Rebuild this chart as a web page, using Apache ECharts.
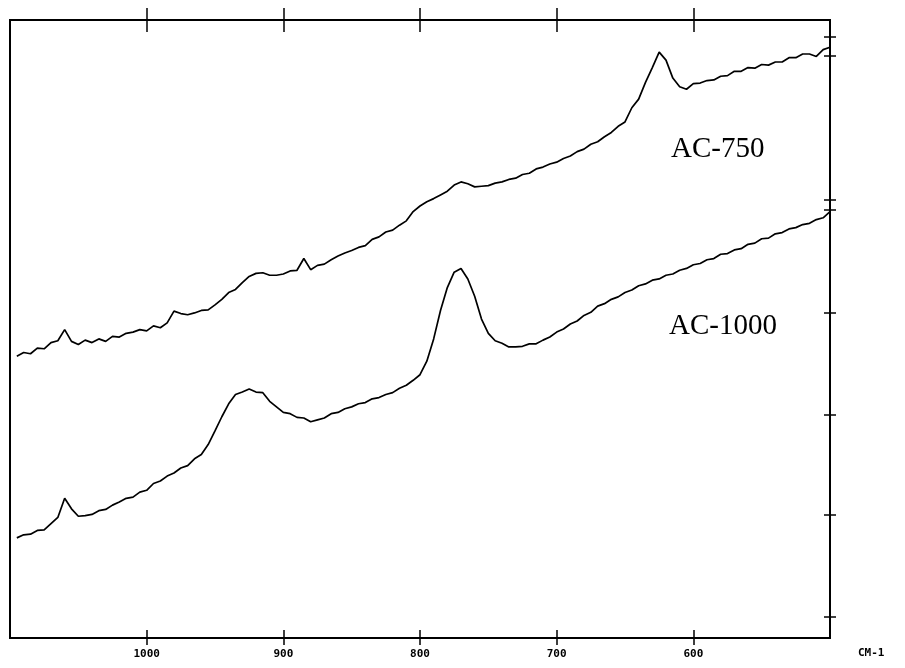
<!DOCTYPE html>
<html>
<head>
<meta charset="utf-8">
<title>IR spectra AC-750 / AC-1000</title>
<script src="https://cdn.jsdelivr.net/npm/echarts@6/dist/echarts.min.js"></script>
<style>
  html, body { margin: 0; padding: 0; background: #fff; }
  #chart { width: 905px; height: 668px; }
</style>
</head>
<body>
<div id="chart"></div>
<script>
// Wavenumber grid (cm-1), shared by both spectra
const wavenumbers = [
  1095,1090,1085,1080,1075,1070,1065,1060,1055,1050,1045,1040,1035,1030,1025,1020,1015,1010,1005,1000,
  995,990,985,980,975,970,965,960,955,950,945,940,935,930,925,920,915,910,905,900,
  895,890,885,880,875,870,865,860,855,850,845,840,835,830,825,820,815,810,805,800,
  795,790,785,780,775,770,765,760,755,750,745,740,735,730,725,720,715,710,705,700,
  695,690,685,680,675,670,665,660,655,650,645,640,635,630,625,620,615,610,605,600,
  595,590,585,580,575,570,565,560,555,550,545,540,535,530,525,520,515,510,505,500
];

// Sample AC-750 (arbitrary transmittance units)
const ac750 = [
  45.6,46.2,46.0,46.9,46.8,47.8,48.1,49.9,48.0,47.5,48.2,47.8,48.4,48.0,48.8,48.7,49.3,49.5,49.9,49.7,
  50.5,50.2,51.0,52.9,52.5,52.3,52.6,53.0,53.1,53.9,54.8,55.9,56.4,57.5,58.5,59.0,59.1,58.7,58.7,58.9,
  59.4,59.5,61.4,59.6,60.3,60.5,61.2,61.8,62.3,62.7,63.2,63.5,64.5,64.9,65.7,66.0,66.8,67.5,69.0,69.9,
  70.6,71.1,71.7,72.3,73.3,73.8,73.5,73.0,73.1,73.2,73.6,73.8,74.2,74.4,75.0,75.2,75.9,76.2,76.7,77.0,
  77.6,78.0,78.7,79.1,79.9,80.3,81.1,81.8,82.8,83.5,85.8,87.2,89.9,92.3,94.8,93.5,90.6,89.2,88.8,89.7,
  89.8,90.2,90.3,90.9,91.0,91.7,91.7,92.3,92.2,92.8,92.7,93.2,93.2,93.9,93.9,94.5,94.5,94.1,95.2,95.6
];

// Sample AC-1000 (arbitrary transmittance units)
const ac1000 = [
  16.2,16.7,16.8,17.4,17.5,18.5,19.5,22.6,20.9,19.7,19.8,20.0,20.6,20.8,21.5,22.0,22.6,22.8,23.6,23.9,
  25.0,25.4,26.2,26.7,27.5,27.9,29.0,29.7,31.3,33.5,35.8,37.9,39.4,39.8,40.3,39.8,39.7,38.3,37.4,36.5,
  36.3,35.7,35.6,35.0,35.3,35.6,36.3,36.5,37.1,37.4,37.9,38.1,38.7,38.9,39.4,39.7,40.4,40.9,41.7,42.6,
  44.8,48.4,53.0,56.7,59.2,59.8,58.1,55.3,51.6,49.3,48.1,47.7,47.1,47.1,47.2,47.6,47.6,48.2,48.7,49.5,
  50.0,50.8,51.3,52.2,52.7,53.7,54.1,54.8,55.2,55.9,56.3,57.0,57.3,57.9,58.1,58.7,58.9,59.5,59.8,60.4,
  60.6,61.2,61.4,62.1,62.2,62.8,63.0,63.7,63.9,64.6,64.7,65.4,65.6,66.2,66.4,66.9,67.1,67.7,68.0,69.0
];

// Axis tick positions
const xTicks = [1000, 900, 800, 700, 600];
const xTickLabels = ['1000', '900', '800', '700', '600'];
const yTicks = [3.4, 19.9, 36.2, 52.6, 69.3, 70.9, 94.2, 97.3];

const seriesNames = ['AC-750', 'AC-1000'];

const pairs = (vals) => wavenumbers.map((w, i) => [w, vals[i]]);

const chart = echarts.init(document.getElementById('chart'), null, { renderer: 'canvas' });

const ink = '#000';
const box = { left: 10, right: 75, top: 20, bottom: 30, containLabel: false };

// Two overlapping grids so that each frame edge can carry ticks on both sides
const xAxisDef = (grid, position, inside, len, withLabels) => ({
  type: 'value', min: 500, max: 1100, inverse: true, gridIndex: grid, position: position,
  splitLine: { show: false },
  axisLine: { show: true, onZero: false, lineStyle: { color: ink, width: 2 } },
  axisTick: {
    show: true, inside: inside, length: len, customValues: xTicks,
    lineStyle: { color: ink, width: 1.5 }
  },
  axisLabel: withLabels ? {
    show: true, customValues: xTicks, margin: 11,
    formatter: (v) => xTickLabels[xTicks.indexOf(v)],
    color: ink, fontFamily: 'DejaVu Sans Mono', fontWeight: 'bold', fontSize: 11
  } : { show: false }
});

const yAxisDef = (grid, position, inside, ticks) => ({
  type: 'value', min: 0, max: 100, gridIndex: grid, position: position,
  splitLine: { show: false },
  axisLine: { show: true, onZero: false, lineStyle: { color: ink, width: 2 } },
  axisTick: ticks ? {
    show: true, inside: inside, length: 6, customValues: yTicks,
    lineStyle: { color: ink, width: 1.5 }
  } : { show: false },
  axisLabel: { show: false }
});

const option = {
  animation: false,
  backgroundColor: '#fff',
  grid: [Object.assign({}, box), Object.assign({}, box)],
  xAxis: [
    xAxisDef(0, 'bottom', true, 8, true),
    xAxisDef(0, 'top', false, 12, false),
    xAxisDef(1, 'bottom', false, 7, false),
    xAxisDef(1, 'top', true, 12, false)
  ],
  yAxis: [
    yAxisDef(0, 'right', true, true),
    yAxisDef(0, 'left', false, false),
    yAxisDef(1, 'right', false, true)
  ],
  series: [
    {
      name: seriesNames[0], type: 'line', xAxisIndex: 0, yAxisIndex: 0,
      data: pairs(ac750), showSymbol: false, smooth: false,
      lineStyle: { color: ink, width: 1.7 }
    },
    {
      name: seriesNames[1], type: 'line', xAxisIndex: 0, yAxisIndex: 0,
      data: pairs(ac1000), showSymbol: false, smooth: false,
      lineStyle: { color: ink, width: 1.7 }
    }
  ],
  graphic: [
    {
      type: 'text', left: 671, top: 135,
      style: { text: seriesNames[0], fill: ink, font: '29px "Liberation Serif", serif' }
    },
    {
      type: 'text', left: 669, top: 312,
      style: { text: seriesNames[1], fill: ink, font: '29px "Liberation Serif", serif' }
    },
    {
      type: 'text', left: 858, top: 648,
      style: { text: 'CM-1', fill: ink, font: 'bold 11px "DejaVu Sans Mono", monospace' }
    }
  ]
};

chart.setOption(option);
</script>
</body>
</html>
